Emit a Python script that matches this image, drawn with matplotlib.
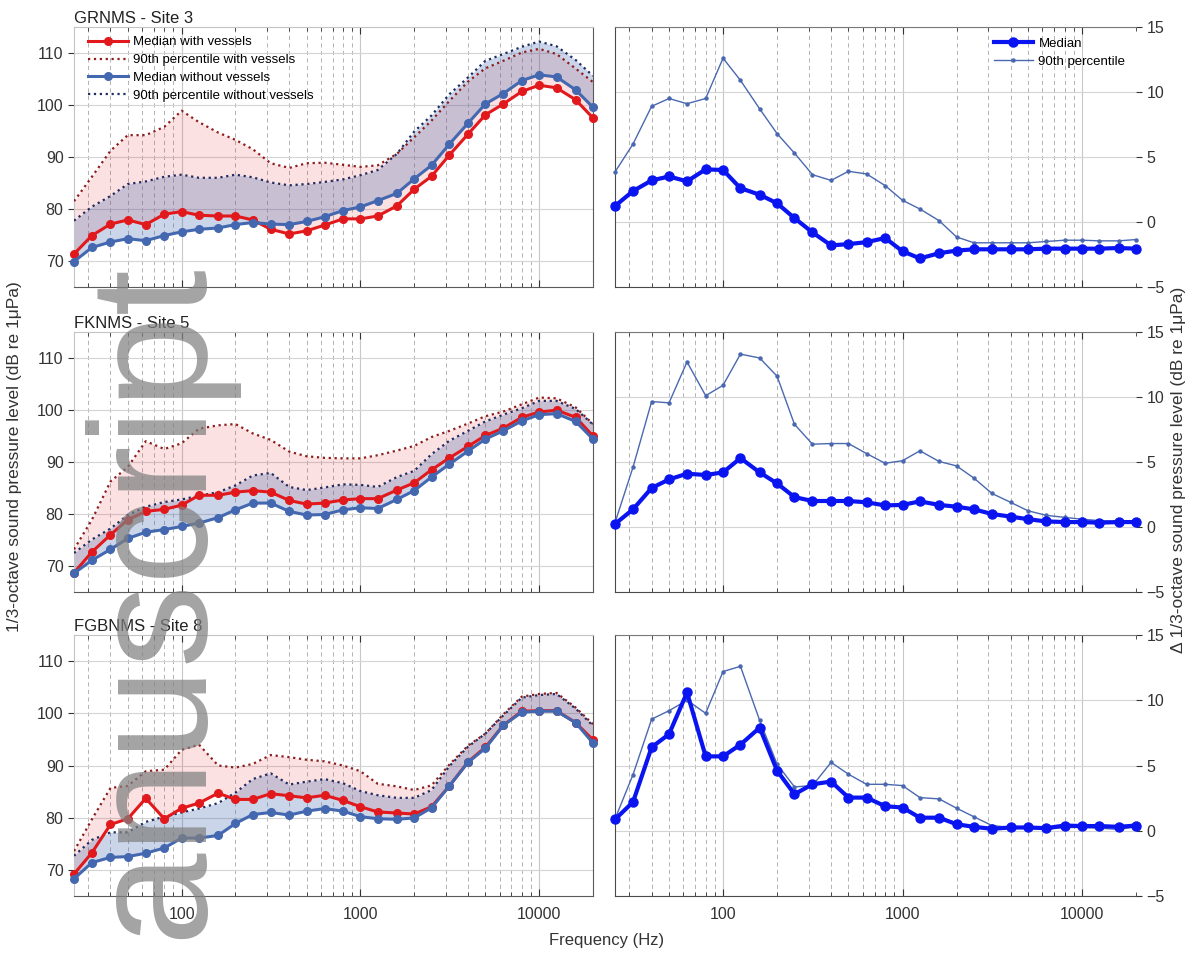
import numpy as np
import matplotlib
matplotlib.use('Agg')
import matplotlib.pyplot as plt
from matplotlib.ticker import FixedLocator, LogLocator, NullFormatter, FuncFormatter

plt.rcParams['font.family'] = ['Liberation Sans', 'DejaVu Sans']

# 1/3-octave band centre frequencies (Hz)
freq = [25, 31.5, 40, 50, 63, 80, 100, 125, 160, 200, 250, 315, 400, 500, 630,
        800, 1000, 1250, 1600, 2000, 2500, 3150, 4000, 5000, 6300, 8000, 10000,
        12500, 16000, 20000]

site_titles = ['GRNMS - Site 3', 'FKNMS - Site 5', 'FGBNMS - Site 8']

# GRNMS - Site 3
grn_med_with = [71.35, 74.9, 77.1, 77.9, 77.0, 79.0, 79.5, 78.8, 78.65, 78.65, 77.9, 76.1,
                75.2, 75.8, 76.9, 78.1, 78.1, 78.65, 80.6, 83.8, 86.3, 90.4, 94.4, 98.1,
                100.2, 102.6, 103.8, 103.3, 101.0, 97.5]
grn_med_without = [69.9, 72.6, 73.65, 74.3, 73.9, 74.9, 75.6, 76.1, 76.35, 77.0, 77.4, 77.1,
                   77.0, 77.6, 78.5, 79.7, 80.4, 81.6, 83.0, 85.8, 88.4, 92.5, 96.5, 100.2,
                   102.2, 104.7, 105.8, 105.4, 102.9, 99.55]
grn_p90_with = [81.5, 86.2, 91.2, 94.2, 94.2, 95.8, 98.9, 96.7, 94.7, 93.3, 91.5, 88.8,
                87.9, 88.8, 88.9, 88.5, 88.1, 88.4, 90.6, 93.8, 97.0, 100.8, 104.5, 107.05,
                108.5, 110.1, 110.8, 109.8, 107.0, 104.4]
grn_p90_without = [77.75, 80.45, 82.5, 84.8, 85.3, 86.2, 86.6, 86.0, 86.0, 86.6, 86.1, 85.1,
                   84.55, 84.8, 85.2, 85.7, 86.5, 87.5, 90.6, 94.9, 98.0, 102.1, 105.3, 108.5,
                   109.8, 111.2, 112.2, 111.3, 108.65, 105.6]
grn_delta_med = [1.23, 2.38, 3.2, 3.5, 3.13, 4.05, 4.0, 2.6, 2.1, 1.44, 0.3, -0.8, -1.8,
                 -1.7, -1.55, -1.23, -2.25, -2.8, -2.4, -2.2, -2.1, -2.1, -2.1, -2.1, -2.05,
                 -2.05, -2.05, -2.05, -2.0, -2.05]
grn_delta_p90 = [3.85, 6.0, 8.9, 9.5, 9.1, 9.5, 12.6, 10.9, 8.7, 6.8, 5.3, 3.64, 3.2, 3.9,
                 3.7, 2.8, 1.67, 1.0, 0.1, -1.15, -1.6, -1.6, -1.6, -1.6, -1.5, -1.4, -1.4,
                 -1.45, -1.45, -1.35]

# FKNMS - Site 5
fkn_med_with = [68.7, 72.7, 76.0, 78.9, 80.5, 80.9, 81.7, 83.6, 83.6, 84.2, 84.5, 84.2,
                82.6, 81.9, 82.1, 82.7, 82.95, 82.95, 84.6, 86.0, 88.5, 90.8, 93.0, 95.1,
                96.5, 98.6, 99.6, 99.97, 98.6, 95.0]
fkn_med_without = [68.6, 71.1, 73.2, 75.3, 76.5, 77.0, 77.6, 78.25, 79.3, 80.8, 82.1, 82.1,
                   80.5, 79.8, 79.9, 80.8, 81.2, 81.05, 82.8, 84.5, 87.1, 89.6, 92.1, 94.4,
                   96.0, 97.9, 99.1, 99.3, 97.8, 94.4]
fkn_p90_with = [73.2, 78.9, 86.25, 89.05, 94.0, 92.5, 93.6, 96.4, 97.05, 97.3, 95.5, 94.25,
                92.0, 91.1, 90.8, 90.7, 90.7, 91.3, 92.2, 93.1, 94.8, 96.0, 97.4, 98.8,
                99.7, 101.1, 102.4, 102.25, 100.5, 97.3]
fkn_p90_without = [72.5, 75.1, 77.2, 79.8, 81.4, 82.3, 82.8, 83.5, 84.2, 85.5, 87.4, 87.9,
                   85.2, 84.6, 85.1, 85.7, 85.6, 85.2, 87.1, 88.3, 91.5, 94.1, 96.0, 97.8,
                   99.1, 100.35, 101.75, 101.75, 100.2, 97.2]
fkn_delta_med = [0.23, 1.36, 3.0, 3.66, 4.1, 4.0, 4.2, 5.3, 4.2, 3.35, 2.3, 2.0, 2.0, 2.0,
                 1.9, 1.66, 1.7, 1.97, 1.7, 1.56, 1.36, 1.0, 0.8, 0.6, 0.43, 0.38, 0.38,
                 0.33, 0.38, 0.38]
fkn_delta_p90 = [0.33, 4.6, 9.65, 9.55, 12.7, 10.1, 10.9, 13.3, 13.0, 11.6, 7.9, 6.37, 6.42,
                 6.42, 5.65, 4.9, 5.1, 5.86, 5.04, 4.7, 3.76, 2.58, 1.9, 1.25, 0.9, 0.74,
                 0.6, 0.49, 0.43, 0.43]

# FGBNMS - Site 8
fgb_med_with = [69.2, 73.3, 78.7, 79.8, 83.7, 79.8, 81.8, 82.8, 84.7, 83.5, 83.5, 84.6,
                84.2, 83.8, 84.3, 83.3, 82.1, 81.1, 80.9, 80.7, 82.1, 86.1, 90.7, 93.5,
                97.7, 100.4, 100.5, 100.5, 98.2, 94.9]
fgb_med_without = [68.3, 71.4, 72.4, 72.55, 73.2, 74.2, 76.1, 76.1, 76.6, 78.9, 80.6, 81.0,
                   80.5, 81.25, 81.75, 81.25, 80.2, 79.8, 79.7, 79.95, 81.9, 86.1, 90.6,
                   93.3, 97.7, 100.2, 100.4, 100.4, 98.2, 94.3]
fgb_p90_with = [73.6, 79.7, 85.7, 86.1, 88.9, 89.2, 93.0, 94.0, 90.0, 89.6, 90.3, 92.0,
                91.6, 91.1, 90.8, 90.0, 88.9, 86.5, 86.0, 85.3, 86.2, 90.2, 93.8, 96.1,
                99.8, 103.2, 103.7, 103.9, 101.1, 97.9]
fgb_p90_without = [72.7, 75.75, 77.2, 77.2, 79.2, 80.2, 81.0, 81.75, 82.8, 84.8, 87.4, 88.5,
                   86.35, 86.9, 87.4, 86.6, 85.1, 84.3, 83.8, 83.8, 85.3, 89.9, 93.6, 96.1,
                   99.6, 103.0, 103.5, 103.7, 100.9, 97.6]
fgb_delta_med = [0.87, 2.2, 6.4, 7.4, 10.6, 5.7, 5.7, 6.6, 7.9, 4.6, 2.8, 3.56, 3.77, 2.54,
                 2.54, 1.88, 1.78, 1.0, 1.0, 0.5, 0.3, 0.15, 0.25, 0.25, 0.2, 0.4, 0.36,
                 0.36, 0.3, 0.4]
fgb_delta_p90 = [0.9, 4.3, 8.55, 9.2, 10.0, 9.0, 12.2, 12.6, 8.45, 5.1, 3.36, 3.46, 5.24,
                 4.33, 3.56, 3.56, 3.46, 2.54, 2.44, 1.73, 1.07, 0.4, 0.25, 0.2, 0.1, 0.25,
                 0.25, 0.2, 0.1, 0.3]

sites = [
    (grn_med_with, grn_p90_with, grn_med_without, grn_p90_without, grn_delta_med, grn_delta_p90),
    (fkn_med_with, fkn_p90_with, fkn_med_without, fkn_p90_without, fkn_delta_med, fkn_delta_p90),
    (fgb_med_with, fgb_p90_with, fgb_med_without, fgb_p90_without, fgb_delta_med, fgb_delta_p90),
]

RED = '#e2191c'
RED_DARK = '#8e1c1c'
BLUE = '#4468b0'
BLUE_DARK = '#1e2c62'
DBLUE = '#0a14f0'
P90BLUE = '#4a68b0'

W, H = 1196, 955
fig = plt.figure(figsize=(W / 100, H / 100), dpi=100)

# panel rows in pixels (top, bottom)
rows_px = [(27, 287), (332, 592), (635, 896)]
left_px = (74, 593)
right_px = (615, 1136)


def px_rect(xpx, ypx):
    x0, x1 = xpx
    top, bot = ypx
    return [x0 / W, 1 - bot / H, (x1 - x0) / W, (bot - top) / H]


def style_xaxis(ax, show_labels):
    ax.set_xscale('log')
    ax.set_xlim(25, 20000)
    ax.xaxis.set_major_locator(FixedLocator([100, 1000, 10000]))
    ax.xaxis.set_minor_locator(LogLocator(base=10, subs=np.arange(2, 10), numticks=20))
    ax.xaxis.set_minor_formatter(NullFormatter())
    if show_labels:
        ax.xaxis.set_major_formatter(FuncFormatter(lambda v, p: '%d' % v))
    else:
        ax.xaxis.set_major_formatter(NullFormatter())
    ax.tick_params(axis='x', which='both', direction='in', top=True, bottom=True,
                   labelsize=11.5, colors='#333333', pad=8)
    ax.tick_params(axis='x', which='major', length=5, width=0.8)
    ax.tick_params(axis='x', which='minor', length=3, width=0.6)
    ax.grid(True, axis='x', which='major', color='#c8c8c8', lw=0.8, ls='-')
    ax.grid(True, axis='x', which='minor', color='#6a6a6a', lw=0.6, ls=(0, (5, 4)), alpha=0.6)
    ax.grid(True, axis='y', which='major', color='#d4d4d4', lw=0.8)
    ax.set_axisbelow(True)


for i, (title, data) in enumerate(zip(site_titles, sites)):
    med_w, p90_w, med_wo, p90_wo, d_med, d_p90 = data
    last = i == len(sites) - 1

    # left: absolute levels
    ax = fig.add_axes(px_rect(left_px, rows_px[i]))
    style_xaxis(ax, last)
    ax.set_ylim(65, 115)
    ax.set_yticks([70, 80, 90, 100, 110])
    ax.tick_params(axis='y', direction='out', length=4, labelsize=11.5, colors='#333333')
    for s in ['left', 'top']:
        ax.spines[s].set_color('#c4c4c4')
    for s in ['right', 'bottom']:
        ax.spines[s].set_color('#5a5a5a')

    ax.fill_between(freq, med_w, p90_w, color=RED, alpha=0.13, lw=0)
    ax.fill_between(freq, med_wo, p90_wo, color=BLUE, alpha=0.28, lw=0)
    ax.plot(freq, med_w, '-o', color=RED, lw=2.2, ms=5.5, label='Median with vessels',
            clip_on=False, zorder=4)
    ax.plot(freq, p90_w, ':', color=RED_DARK, lw=1.6, label='90th percentile with vessels',
            zorder=3)
    ax.plot(freq, med_wo, '-o', color=BLUE, lw=2.2, ms=5.5, label='Median without vessels',
            clip_on=False, zorder=4)
    ax.plot(freq, p90_wo, ':', color=BLUE_DARK, lw=1.6, label='90th percentile without vessels',
            zorder=3)
    ax.text(0, 1 + 4 / 260, title, transform=ax.transAxes, ha='left', va='baseline',
            fontsize=12, color='#222222')
    if i == 0:
        ax.legend(loc='upper left', frameon=False, fontsize=9.5, handlelength=3.0,
                  labelspacing=0.42, borderaxespad=0.3, handletextpad=0.4,
                  bbox_to_anchor=(0.01, 1.0))

    # right: differences
    ax2 = fig.add_axes(px_rect(right_px, rows_px[i]))
    style_xaxis(ax2, last)
    ax2.set_ylim(-5, 15)
    ax2.set_yticks([-5, 0, 5, 10, 15])
    ax2.yaxis.tick_right()
    ax2.tick_params(axis='y', direction='out', length=4, labelsize=11.5, colors='#333333',
                    left=False, right=True)
    ax2.spines['right'].set_visible(False)
    ax2.spines['left'].set_color('#4a4a4a')
    ax2.spines['bottom'].set_color('#4a4a4a')
    ax2.spines['top'].set_color('#7a7a7a')
    ax2.plot(freq, d_med, '-o', color=DBLUE, lw=3.0, ms=6.5, label='Median',
             clip_on=False, zorder=4)
    ax2.plot(freq, d_p90, '-o', color=P90BLUE, lw=1.0, ms=2.2, label='90th percentile',
             clip_on=False, zorder=3)
    if i == 0:
        ax2.legend(loc='upper right', frameon=False, fontsize=9.5, handlelength=3.0,
                   labelspacing=0.45, borderaxespad=0.4, handletextpad=0.4)

fig.text(607 / W, 1 - 940 / H, 'Frequency (Hz)', ha='center', va='center', fontsize=12,
         color='#333333')
fig.text(15 / W, 1 - 457 / H, '1/3-octave sound pressure level (dB re 1\u03bcPa)',
         rotation=90, ha='center', va='center', fontsize=12.5, color='#333333')
fig.text(1179 / W, 1 - 470 / H,
         '\u0394 1/3-octave sound pressure level (dB re 1\u03bcPa)',
         rotation=90, ha='center', va='center', fontsize=12.5, color='#333333')

# author-manuscript watermark
fig.text(193 / W, 1 - 255 / H, 'Manuscript', rotation=90, rotation_mode='anchor',
         ha='right', va='baseline', fontsize=120, color='#808080', alpha=0.72,
         zorder=10)

fig.savefig('out.png', dpi=100)
